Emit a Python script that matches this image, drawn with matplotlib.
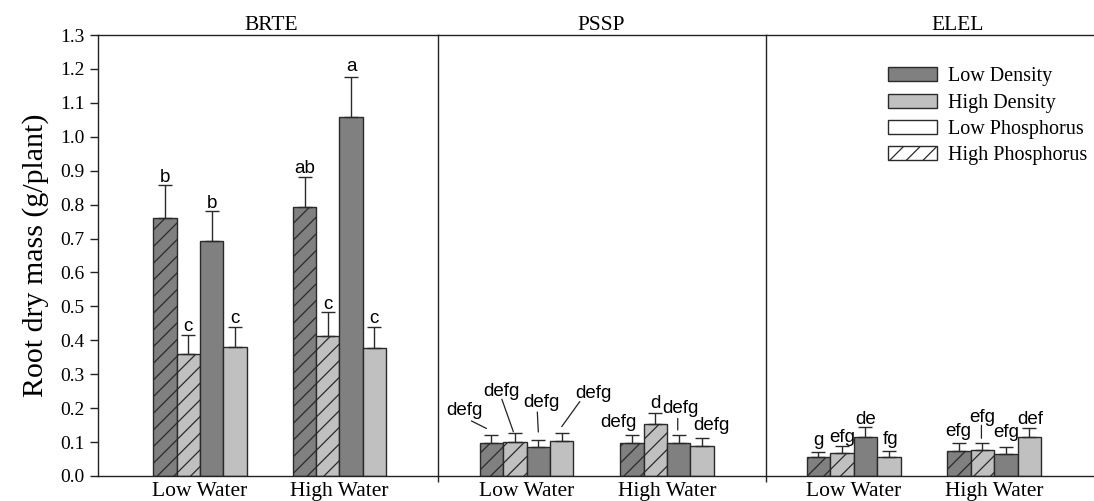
import numpy as np
import matplotlib
matplotlib.use('Agg')
import matplotlib.pyplot as plt
from matplotlib.patches import Patch
from matplotlib.transforms import offset_copy

plt.rcParams['font.family'] = ['Liberation Serif', 'DejaVu Serif']
plt.rcParams['hatch.linewidth'] = 0.9

# Data (bar order within each water level: LD-HP, HD-HP, LD-LP, HD-LP)
water = ['Low Water', 'High Water']
species = ['BRTE', 'PSSP', 'ELEL']

brte_mean = [[0.760, 0.360, 0.692, 0.380], [0.792, 0.412, 1.057, 0.378]]
brte_se = [[0.097, 0.057, 0.088, 0.060], [0.090, 0.071, 0.120, 0.062]]
brte_letters = [['b', 'c', 'b', 'c'], ['ab', 'c', 'a', 'c']]

pssp_mean = [[0.098, 0.101, 0.085, 0.103], [0.096, 0.153, 0.096, 0.089]]
pssp_se = [[0.023, 0.025, 0.021, 0.025], [0.025, 0.032, 0.025, 0.022]]
pssp_letters = [['defg', 'defg', 'defg', 'defg'], ['defg', 'd', 'defg', 'defg']]

elel_mean = [[0.055, 0.067, 0.116, 0.057], [0.075, 0.077, 0.065, 0.114]]
elel_se = [[0.017, 0.020, 0.027, 0.018], [0.022, 0.021, 0.020, 0.027]]
elel_letters = [['g', 'efg', 'de', 'fg'], ['efg', 'efg', 'efg', 'def']]

means = [brte_mean, pssp_mean, elel_mean]
errs = [brte_se, pssp_se, elel_se]
letters = [brte_letters, pssp_letters, elel_letters]

DARK = '#808080'
LIGHT = '#c0c0c0'
EDGE = '#2a2a2a'
bar_colors = [DARK, LIGHT, DARK, LIGHT]
bar_hatch = ['//', '//', None, None]

# layout tweaks: letter offsets (px right, px up) from cap, and leader lines
text_off = [
    [[(0, 3.5)] * 4, [(0, 3.5), (0, 3.5), (0, 5.5), (0, 3.5)]],
    [[(-27, 20), (-13, 37), (3, 33), (32, 35)], [(-13, 8), (0, 5), (2, 22), (9, 8)]],
    [[(0, 7), (0, 4), (0, 3), (2, 6.5)], [(-1, 7.5), (0, 20.5), (0, 10), (1, 4.5)]],
]
leaders = {
    (1, 0, 0): ((-20, 14), (-5, 6.5)),
    (1, 0, 1): ((-13, 34), (-1.5, 1.5)),
    (1, 0, 2): ((-1, 28), (0, 8)),
    (1, 0, 3): ((18, 31), (0, 6)),
    (1, 1, 2): ((-1, 16.5), (-1, 5)),
    (2, 1, 1): ((-1, 17.5), (-1, 4.5)),
}
xlims = [(0.268, 2.707), (0.369, 2.705), (0.377, 2.703)]
title_x = [0.511, 0.497, 0.587]
w = 0.167

fig = plt.figure(figsize=(10.94, 5.01), dpi=100)
gs = fig.add_gridspec(1, 3, width_ratios=[340, 328, 327], wspace=0,
                      left=98 / 1094, right=1093 / 1094, bottom=25 / 501, top=466 / 501)
axes = [fig.add_subplot(gs[0, i]) for i in range(3)]

for p, ax in enumerate(axes):
    for g in range(2):
        for i in range(4):
            x = (g + 1) + (i - 1.5) * w
            v = means[p][g][i]
            e = errs[p][g][i]
            ax.bar(x, v, width=w, color=bar_colors[i], edgecolor=EDGE, linewidth=1,
                   hatch=bar_hatch[i], zorder=2)
            ax.errorbar(x, v, yerr=[[0], [e]], fmt='none', ecolor=EDGE, elinewidth=1,
                        capsize=4.8, capthick=1, zorder=3)
            dx, dy = text_off[p][g][i]
            ax.annotate(letters[p][g][i], xy=(x, v + e), xytext=(dx, dy),
                        textcoords='offset pixels', ha='center', va='baseline',
                        fontsize=13.5, family=['Liberation Sans', 'DejaVu Sans'])
            if (p, g, i) in leaders:
                (sx, sy), (ex, ey) = leaders[(p, g, i)]
                tr = offset_copy(ax.transData, fig=fig, x=ex, y=ey, units='dots')
                ax.annotate('', xy=(x, v + e), xycoords=tr, xytext=(sx - ex, sy - ey),
                            textcoords='offset pixels',
                            arrowprops=dict(arrowstyle='-', shrinkA=0, shrinkB=0,
                                            lw=0.9, color='#222222'))

    ax.set_xlim(*xlims[p])
    ax.set_ylim(0, 1.3)
    ax.set_xticks([1, 2])
    ax.set_xticklabels(water, fontsize=15.5)
    ax.tick_params(axis='x', length=0, pad=4)
    ax.spines['right'].set_visible(False)
    for s in ['left', 'top', 'bottom']:
        ax.spines[s].set_linewidth(1)
        ax.spines[s].set_color('#222222')
    ax.annotate(species[p], xy=(title_x[p], 1), xycoords='axes fraction',
                xytext=(0, 5), textcoords='offset pixels', ha='center', va='baseline',
                fontsize=15.5)
    if p == 0:
        ax.set_yticks(np.arange(0, 1.31, 0.1))
        ax.set_yticklabels([f'{t:.1f}' for t in np.arange(0, 1.31, 0.1)], fontsize=14)
        ax.tick_params(axis='y', length=6, width=1, direction='out', color='#222222')
        ax.set_ylabel('Root dry mass (g/plant)', fontsize=21.5, labelpad=8)
    else:
        ax.set_yticks([])
        ax.set_xticks([xlims[p][0]], minor=True)
        ax.tick_params(axis='x', which='minor', length=4, width=1, color='#222222')

handles = [Patch(facecolor=DARK, edgecolor=EDGE, linewidth=1),
           Patch(facecolor=LIGHT, edgecolor=EDGE, linewidth=1),
           Patch(facecolor='white', edgecolor=EDGE, linewidth=1),
           Patch(facecolor='white', edgecolor=EDGE, linewidth=1, hatch='//')]
axes[2].legend(handles, ['Low Density', 'High Density', 'Low Phosphorus', 'High Phosphorus'],
               loc='upper left', bbox_to_anchor=(0.373, 0.927), frameon=False, fontsize=14.5,
               handlelength=2.45, handleheight=0.7, handletextpad=0.55, labelspacing=0.36,
               borderpad=0, borderaxespad=0)

fig.savefig('out.png', dpi=100)
